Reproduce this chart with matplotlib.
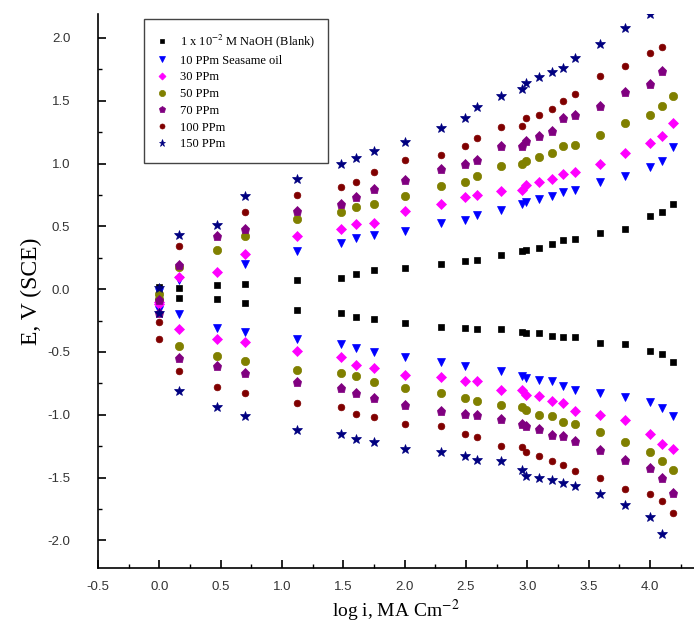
import numpy as np
import matplotlib
matplotlib.use("Agg")
import matplotlib.pyplot as plt
from matplotlib.ticker import MultipleLocator

nan = np.nan

# log i values (same for every series)
log_i = [0.0, 0.16, 0.47, 0.70, 1.12, 1.48, 1.60, 1.75, 2.0, 2.30, 2.49, 2.59,
         2.79, 2.96, 2.99, 3.10, 3.20, 3.29, 3.39, 3.59, 3.80, 4.00, 4.10, 4.19]

# anodic (upper) and cathodic (lower) branches, E in V (SCE)
blank_up = [0.02, 0.01, 0.03, 0.04, 0.07, 0.09, 0.12, 0.15, 0.17, 0.20, 0.22, 0.23,
            0.27, 0.30, 0.31, 0.33, 0.36, 0.39, 0.40, 0.45, 0.48, 0.58, 0.61, 0.68]
blank_dn = [-0.02, -0.07, -0.08, -0.11, -0.17, -0.19, -0.22, -0.24, -0.27, -0.30, -0.31, -0.32,
            -0.32, -0.34, -0.35, -0.35, -0.37, -0.38, -0.38, -0.43, -0.44, -0.49, -0.52, -0.58]

p10_up = [-0.02, 0.07, nan, 0.20, 0.30, 0.37, 0.41, 0.43, 0.46, 0.53, 0.55, 0.59,
          0.63, 0.68, 0.69, 0.72, 0.74, 0.77, 0.79, 0.85, 0.90, 0.97, 1.02, 1.13]
p10_dn = [-0.17, -0.20, -0.31, -0.34, -0.40, -0.44, -0.47, -0.50, -0.54, -0.58, -0.61, nan,
          -0.65, -0.69, -0.71, -0.72, -0.73, -0.77, -0.80, -0.83, -0.86, -0.90, -0.95, -1.01]

p30_up = [-0.10, 0.10, 0.14, 0.28, 0.42, 0.48, 0.52, 0.53, 0.62, 0.68, 0.73, 0.75,
          0.78, 0.79, 0.83, 0.85, 0.88, 0.92, 0.93, 1.00, 1.08, 1.16, 1.22, 1.32]
p30_dn = [-0.12, -0.32, -0.40, -0.42, -0.49, -0.54, -0.60, -0.63, -0.68, -0.70, -0.73, -0.73,
          -0.80, -0.80, -0.84, -0.85, -0.89, -0.91, -0.97, -1.00, -1.04, -1.15, -1.23, -1.27]

p50_up = [-0.04, 0.18, 0.31, 0.42, 0.56, 0.61, 0.65, 0.68, 0.74, 0.82, 0.85, 0.90,
          0.98, 1.00, 1.02, 1.05, 1.08, 1.14, 1.15, 1.23, 1.32, 1.39, 1.46, 1.54]
p50_dn = [-0.08, -0.45, -0.53, -0.57, -0.64, -0.67, -0.69, -0.74, -0.79, -0.83, -0.87, -0.89,
          -0.92, -0.94, -0.96, -1.00, -1.01, -1.06, -1.07, -1.14, -1.22, -1.30, -1.37, -1.44]

p70_up = [-0.09, 0.19, 0.42, 0.48, 0.62, 0.68, 0.73, 0.80, 0.87, 0.96, 1.00, 1.03,
          1.14, 1.14, 1.18, 1.22, 1.26, 1.36, 1.39, 1.46, 1.57, 1.63, 1.74, nan]
p70_dn = [-0.19, -0.55, -0.61, -0.67, -0.74, -0.79, -0.83, -0.87, -0.92, -0.97, -0.99, -1.00,
          -1.03, -1.07, -1.09, -1.11, -1.16, -1.17, -1.21, -1.28, -1.36, -1.42, -1.50, -1.62]

p100_up = [-0.26, 0.34, nan, 0.61, 0.75, 0.81, 0.85, 0.93, 1.03, 1.07, 1.14, 1.20,
           1.29, 1.30, 1.36, 1.39, 1.43, 1.50, 1.55, 1.70, 1.78, 1.88, 1.93, nan]
p100_dn = [-0.40, -0.65, -0.78, -0.83, -0.91, -0.94, -0.99, -1.02, -1.07, -1.09, -1.15, -1.18,
           -1.25, -1.26, -1.30, -1.33, -1.37, -1.40, -1.45, -1.50, -1.59, -1.63, -1.69, -1.78]

p150_up = [0.01, 0.43, 0.51, 0.74, 0.88, 1.00, 1.04, 1.10, 1.17, 1.28, 1.36, 1.45,
           1.54, 1.59, 1.64, 1.69, 1.73, 1.76, 1.84, 1.95, 2.08, 2.19, nan, nan]
p150_dn = [-0.19, -0.81, -0.94, -1.01, -1.12, -1.15, -1.19, -1.22, -1.27, -1.30, -1.33, -1.36,
           -1.37, -1.44, -1.49, -1.50, -1.52, -1.54, -1.57, -1.63, -1.72, -1.81, -1.95, nan]

labels = [r"1 x 10$^{-2}$ M NaOH (Blank)", "10 PPm Seasame oil", "30 PPm", "50 PPm",
          "70 PPm", "100 PPm", "150 PPm"]

plt.rcParams["mathtext.fontset"] = "stix"
plt.rcParams["axes.unicode_minus"] = False

series = [
    (blank_up, blank_dn, "s", "black", 4),
    (p10_up, p10_dn, "v", "#0000ff", 6),
    (p30_up, p30_dn, "D", "#ff00ff", 4.8),
    (p50_up, p50_dn, "o", "#808000", 6),
    (p70_up, p70_dn, "p", "#800080", 6.5),
    (p100_up, p100_dn, "o", "#800000", 4.8),
    (p150_up, p150_dn, "*", "#000080", 7),
]

fig = plt.figure(figsize=(6.94, 6.31), dpi=100)
ax = fig.add_axes([0.1412, 0.0998, 0.8588, 0.878])

x_all = log_i + log_i
for (up, dn, mk, col, ms), lab in zip(series, labels):
    ax.plot(x_all, up + dn, linestyle="none", marker=mk, color=col,
            markersize=ms, markeredgewidth=0.5, label=lab)

ax.set_xlim(-0.5, 4.36)
ax.set_ylim(-2.22, 2.19)
ax.xaxis.set_major_locator(MultipleLocator(0.5))
ax.xaxis.set_minor_locator(MultipleLocator(0.25))
ax.yaxis.set_major_locator(MultipleLocator(0.5))
ax.yaxis.set_minor_locator(MultipleLocator(0.25))
ax.tick_params(which="major", direction="in", length=6, width=1.2,
               labelsize=9.5, labelcolor="#333333")
ax.tick_params(which="minor", direction="in", length=3, width=1.0)
for lab in ax.get_xticklabels() + ax.get_yticklabels():
    lab.set_fontfamily("Liberation Sans")
ax.tick_params(axis="x", pad=9)
ax.tick_params(axis="y", pad=20)

ax.spines["top"].set_visible(False)
ax.spines["right"].set_visible(False)
ax.spines["left"].set_linewidth(1.2)
ax.spines["bottom"].set_linewidth(1.2)

ax.set_xlabel(r"log i, MA Cm$^{-2}$", fontsize=14, family="Liberation Serif", labelpad=4)
ax.set_ylabel("E, V (SCE)", fontsize=17, family="Liberation Serif", labelpad=4)

leg = ax.legend(loc="upper left", bbox_to_anchor=(0.067, 1.002), frameon=True,
                fancybox=False, edgecolor="#444444", framealpha=1,
                prop={"family": "Liberation Serif", "size": 9},
                handlelength=0.8, handletextpad=1.0, labelspacing=0.38,
                borderpad=1.05, markerscale=0.75)
leg.get_frame().set_linewidth(1.0)

fig.savefig("out.png", dpi=100)
